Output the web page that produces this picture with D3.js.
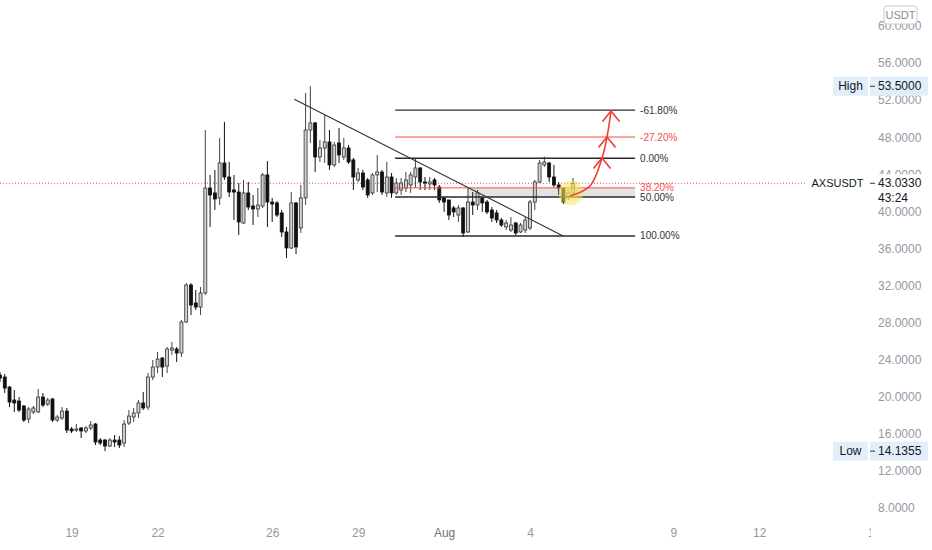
<!DOCTYPE html>
<html><head><meta charset="utf-8">
<script src="https://cdn.jsdelivr.net/npm/d3@7"></script>
<style>body{margin:0;background:#fff;} svg{display:block;font-family:"Liberation Sans",Arial,sans-serif;}</style>
</head><body><svg id="c" width="932" height="550"></svg>
<script>
// ---- data ----
const barStart = Date.UTC(2021, 6, 16, 12); // first 4h bar
const barHours = 4;
const opens = [22.35,22.13,21.05,19.65,19.54,19.00,17.60,18.36,18.36,19.97,
19.22,19.76,17.49,17.71,18.46,16.52,16.41,16.63,16.31,16.63,
17.06,15.33,15.33,14.69,15.33,15.33,15.01,17.17,17.82,18.25,
19.33,18.89,22.13,23.21,24.18,23.32,25.04,25.15,24.72,28.07,
32.06,30.12,29.68,31.20,42.52,41.99,41.45,45.22,43.71,42.31,
42.09,38.75,41.99,40.58,40.26,40.58,43.93,41.01,40.91,39.83,
37.78,36.05,40.91,38.21,41.45,48.78,49.54,45.87,46.84,47.49,
45.01,47.38,45.87,46.84,45.55,43.39,44.14,43.39,41.99,43.93,
44.25,41.99,43.71,41.99,42.31,42.52,42.85,43.71,44.68,43.17,
42.96,43.39,42.63,41.45,41.23,40.37,39.61,40.37,37.78,41.01,
40.69,41.45,41.01,40.15,39.83,39.07,38.32,37.99,38.75,37.78,
37.99,38.21,41.01,43.17,45.01,45.22,43.71,42.85,42.52,41.55,41.99];
const highs = [22.67,22.46,21.16,20.73,19.97,19.11,18.89,19.00,20.84,20.41,
19.87,19.87,18.03,18.89,18.79,16.74,17.06,16.74,16.84,17.38,
17.17,15.55,15.44,15.55,15.87,15.77,17.49,18.57,18.79,19.65,
20.51,22.56,23.97,24.83,24.29,25.37,25.91,25.37,28.28,32.27,
32.27,31.52,31.84,48.78,43.93,44.47,47.92,49.65,45.33,43.93,
43.06,43.39,43.17,41.77,42.52,44.14,45.44,41.45,41.12,40.15,
38.32,42.09,41.01,42.85,52.78,53.50,49.65,47.70,50.40,48.78,
47.49,49.00,47.92,47.16,45.76,44.68,44.47,43.60,44.14,46.09,
44.47,45.33,44.14,43.60,43.60,44.25,44.25,45.65,44.79,43.71,
43.71,43.60,42.85,41.55,41.23,40.58,40.69,40.47,42.52,42.09,
42.31,41.55,41.23,40.47,40.15,39.29,39.07,39.40,38.86,38.75,
39.40,41.23,43.39,45.55,45.90,45.33,45.01,43.17,42.63,42.31,43.60];
const lows = [21.59,20.41,18.89,18.36,18.36,17.28,17.17,18.14,18.25,18.89,
19.00,17.28,17.28,17.49,16.09,16.09,16.20,15.55,16.09,16.41,
14.79,14.79,14.14,14.58,14.58,14.47,14.58,16.95,17.28,17.71,
18.57,18.57,21.81,22.56,22.13,22.56,24.51,23.75,24.29,27.96,
28.82,29.36,28.82,30.98,38.32,40.15,40.69,43.39,41.55,39.07,
37.45,38.64,40.15,38.53,39.40,40.37,38.32,38.86,39.40,37.24,
34.97,35.94,35.40,37.67,40.69,47.38,44.25,45.33,45.22,44.47,
44.79,45.22,45.55,45.11,42.31,43.17,42.31,41.45,41.77,42.09,
41.77,41.55,41.45,41.77,41.77,42.09,41.99,42.52,42.31,42.31,
42.31,42.31,40.91,39.94,39.07,39.40,38.86,37.24,37.67,39.61,
40.15,39.94,39.72,38.86,38.75,38.32,37.99,37.78,37.45,37.67,
37.67,37.99,40.15,43.06,44.79,43.17,42.63,41.77,40.80,41.23,41.77];
const closes = [22.02,20.94,19.43,19.33,18.57,17.49,18.68,18.79,19.97,19.11,
19.65,17.49,17.82,18.46,16.41,16.31,16.52,16.31,16.63,16.95,
15.12,15.01,14.69,15.33,15.12,14.79,17.06,17.92,18.25,19.33,
18.79,22.13,23.21,24.07,23.21,25.15,25.26,24.72,28.07,32.06,
29.90,29.68,31.20,42.52,41.77,41.34,45.22,43.71,42.09,42.09,
38.86,41.99,40.47,40.26,40.69,43.93,41.01,40.80,39.61,37.78,
36.05,40.91,36.16,41.45,48.78,49.54,45.87,46.84,47.49,45.01,
47.16,46.09,46.84,45.33,43.71,44.14,42.63,41.77,43.93,44.25,
42.09,43.71,41.99,43.06,43.06,43.39,43.93,44.68,43.17,43.06,
43.17,42.85,41.23,41.01,39.61,39.94,40.37,37.67,41.01,40.69,
41.99,40.91,39.94,39.29,39.07,38.53,38.75,38.53,37.67,38.53,
39.07,41.01,43.17,45.22,45.33,43.71,42.85,42.52,41.01,41.99,43.033];

const priceTicks = [8,12,16,20,24,28,32,36,40,44,48,52,56,60];
const dateTicks = ["2021-07-19","2021-07-22","2021-07-26","2021-07-29","2021-08-01","2021-08-04","2021-08-09","2021-08-12","2021-08-16"];
const dateTickLabels = ["19","22","26","29","Aug","4","9","12","16"];

const symbolName = "AXSUSDT", currencyName = "USDT", countdown = "43:24";
const lastPrice = 43.033;
const highValue = 53.5, lowValue = 14.1355;

const fibStart = "2021-07-30T07:00Z", fibEnd = "2021-08-07T16:00Z";
const fibHigh = 45.74, fibLow = 37.35;
const fibLevels = [-0.618, -0.272, 0, 0.382, 0.5, 1];
const fibLabels = ["-61.80%","-27.20%","0.00%","38.20%","50.00%","100.00%"];
const fibIsRed = [false, true, false, true, false, false];
const zoneStart = "2021-08-01T20:00Z";
const trendLine = [["2021-07-26T18:30Z", 52.10], ["2021-08-05T03:40Z", 37.35]];
const arrowPath = [["2021-08-05T09:30Z", 41.66], ["2021-08-06T02:14Z", 42.74], ["2021-08-06T12:17Z", 45.76], ["2021-08-06T16:29Z", 48.03], ["2021-08-06T19:50Z", 50.83]];
const arrowHeadIdx = [2, 3, 4];
const highlight = ["2021-08-05T10:20Z", 41.99];

// ---- chart ----
const svg = d3.select("#c");
const W = 932, H = 550, plotRight = 871;
const x = d3.scaleUtc().domain([new Date("2021-07-19T00:00Z"), new Date("2021-08-09T00:00Z")]).range([71.6, 673.3]);
const y = d3.scaleLinear().domain([8, 60]).range([508, 26]);

const bars = opens.map((o, i) => ({t: new Date(barStart + i * barHours * 3600e3), o, h: highs[i], l: lows[i], c: closes[i]}));

svg.append("defs").append("clipPath").attr("id", "plot").append("rect").attr("x", 0).attr("y", 0).attr("width", plotRight).attr("height", H);
const g = svg.append("g").attr("clip-path", "url(#plot)");

// fib zone shading
const fibPrice = l => fibHigh - l * (fibHigh - fibLow);
g.append("rect")
  .attr("x", x(new Date(zoneStart))).attr("width", x(new Date(fibEnd)) - x(new Date(zoneStart)))
  .attr("y", y(fibPrice(0.382))).attr("height", y(fibPrice(0.5)) - y(fibPrice(0.382)))
  .attr("fill", "#e3e3e3");

// current price dotted line
g.append("line").attr("x1", 0).attr("x2", 806).attr("y1", y(lastPrice)).attr("y2", y(lastPrice))
  .attr("stroke", "#e0575b").attr("stroke-width", 1).attr("stroke-dasharray", "1,2");

// candles
const cg = g.append("g");
cg.selectAll("line.w").data(bars).join("line").attr("class", "w")
  .attr("x1", d => x(d.t)).attr("x2", d => x(d.t))
  .attr("y1", d => y(d.h)).attr("y2", d => y(d.l))
  .attr("stroke", d => d.c >= d.o ? "#444" : "#111").attr("stroke-width", 1);
cg.selectAll("rect.b").data(bars).join("rect").attr("class", "b")
  .attr("x", d => x(d.t) - 1.5).attr("width", 3)
  .attr("y", d => y(Math.max(d.o, d.c)))
  .attr("height", d => Math.max(0.8, Math.abs(y(d.o) - y(d.c))))
  .attr("fill", d => d.c >= d.o ? "#cfcfcf" : "#111")
  .attr("stroke", d => d.c >= d.o ? "#333" : "#111").attr("stroke-width", 0.8);

// fib lines
const fx1 = x(new Date(fibStart)), fx2 = x(new Date(fibEnd));
fibLevels.forEach((lv, i) => {
  const yy = y(fibPrice(lv));
  g.append("line").attr("x1", fx1).attr("x2", fx2).attr("y1", yy).attr("y2", yy)
    .attr("stroke", fibIsRed[i] ? "#f0504a" : "#2a2a2a").attr("stroke-width", fibIsRed[i] ? 1 : 1.4);
  g.append("text").attr("x", fx2 + 5).attr("y", yy).attr("dy", "0.35em")
    .attr("font-size", 10).attr("fill", fibIsRed[i] ? "#f0504a" : "#333").text(fibLabels[i]);
});

// trend line
g.append("line")
  .attr("x1", x(new Date(trendLine[0][0]))).attr("y1", y(trendLine[0][1]))
  .attr("x2", x(new Date(trendLine[1][0]))).attr("y2", y(trendLine[1][1]))
  .attr("stroke", "#333").attr("stroke-width", 1.1);

// highlight circle
const grad = svg.select("defs").append("radialGradient").attr("id", "glow");
grad.append("stop").attr("offset", "0%").attr("stop-color", "#f8e45a").attr("stop-opacity", 0.85);
grad.append("stop").attr("offset", "100%").attr("stop-color", "#f8e45a").attr("stop-opacity", 0.45);
g.append("circle").attr("cx", x(new Date(highlight[0]))).attr("cy", y(highlight[1])).attr("r", 12.5)
  .attr("fill", "url(#glow)");

// arrow
const ap = arrowPath.map(p => [x(new Date(p[0])), y(p[1])]);
g.append("path").attr("d", d3.line().curve(d3.curveCatmullRom)(ap))
  .attr("fill", "none").attr("stroke", "#f23a2f").attr("stroke-width", 1.6);
arrowHeadIdx.forEach(k => {
  const [ax, ay] = ap[k];
  g.append("path").attr("d", `M${ax - 8.5},${ay + 10.5}L${ax},${ay}L${ax + 8.5},${ay + 10.5}`)
    .attr("fill", "none").attr("stroke", "#f23a2f").attr("stroke-width", 1.6);
});

// x axis
const xa = svg.append("g").attr("clip-path", "url(#plot)").attr("transform", "translate(0,524)")
  .call(d3.axisBottom(x).tickValues(dateTicks.map(d => new Date(d + "T00:00Z")))
    .tickFormat((d, i) => dateTickLabels[i]).tickSize(0).tickPadding(4));
xa.select(".domain").remove();
xa.selectAll("text").attr("font-size", 12).attr("fill", (d, i) => dateTickLabels[i] === "Aug" ? "#6f727c" : "#9598a1")
  .attr("font-family", "Liberation Sans, Arial, sans-serif");

// y axis
const ya = svg.append("g").attr("transform", `translate(${plotRight},0)`)
  .call(d3.axisRight(y).tickValues(priceTicks).tickFormat(d => d.toFixed(4)).tickSize(0).tickPadding(7));
ya.select(".domain").remove();
ya.selectAll("text").attr("font-size", 12).attr("fill", "#9598a1").attr("font-family", "Liberation Sans, Arial, sans-serif");

// currency box
svg.append("rect").attr("x", 884).attr("y", 6).attr("width", 33).attr("height", 18).attr("rx", 3)
  .attr("fill", "#fff").attr("stroke", "#c9cbd1");
svg.append("text").attr("x", 900.5).attr("y", 15).attr("dy", "0.35em").attr("text-anchor", "middle")
  .attr("font-size", 11).attr("fill", "#8a8d96").text(currencyName);

// high/low labels
function hlLabel(val, name) {
  const yy = y(val);
  svg.append("rect").attr("x", 833).attr("y", yy - 9.5).attr("width", 35).attr("height", 19).attr("fill", "#e3eefb");
  svg.append("rect").attr("x", 870).attr("y", yy - 9.5).attr("width", 58).attr("height", 19).attr("fill", "#e3eefb");
  svg.append("text").attr("x", 850.5).attr("y", yy).attr("dy", "0.35em").attr("text-anchor", "middle")
    .attr("font-size", 12).attr("fill", "#131722").text(name);
  svg.append("line").attr("x1", 870).attr("x2", 875).attr("y1", yy).attr("y2", yy).attr("stroke", "#333");
  svg.append("text").attr("x", 878).attr("y", yy).attr("dy", "0.35em")
    .attr("font-size", 12).attr("fill", "#131722").text(val.toFixed(4));
}
hlLabel(highValue, "High");
hlLabel(lowValue, "Low");

// last price label
const ly = y(lastPrice);
svg.append("rect").attr("x", 808).attr("y", ly - 9).attr("width", 124).attr("height", 32.5).attr("fill", "#fff");
svg.append("text").attr("x", 837.5).attr("y", ly).attr("dy", "0.35em").attr("text-anchor", "middle")
  .attr("font-size", 11).attr("fill", "#131722").text(symbolName);
svg.append("line").attr("x1", 870).attr("x2", 875).attr("y1", ly).attr("y2", ly).attr("stroke", "#333");
svg.append("text").attr("x", 878).attr("y", ly).attr("dy", "0.35em")
  .attr("font-size", 12).attr("fill", "#131722").text(lastPrice.toFixed(4));
svg.append("text").attr("x", 878).attr("y", ly + 15).attr("dy", "0.35em")
  .attr("font-size", 12).attr("fill", "#131722").text(countdown);
</script></body></html>
